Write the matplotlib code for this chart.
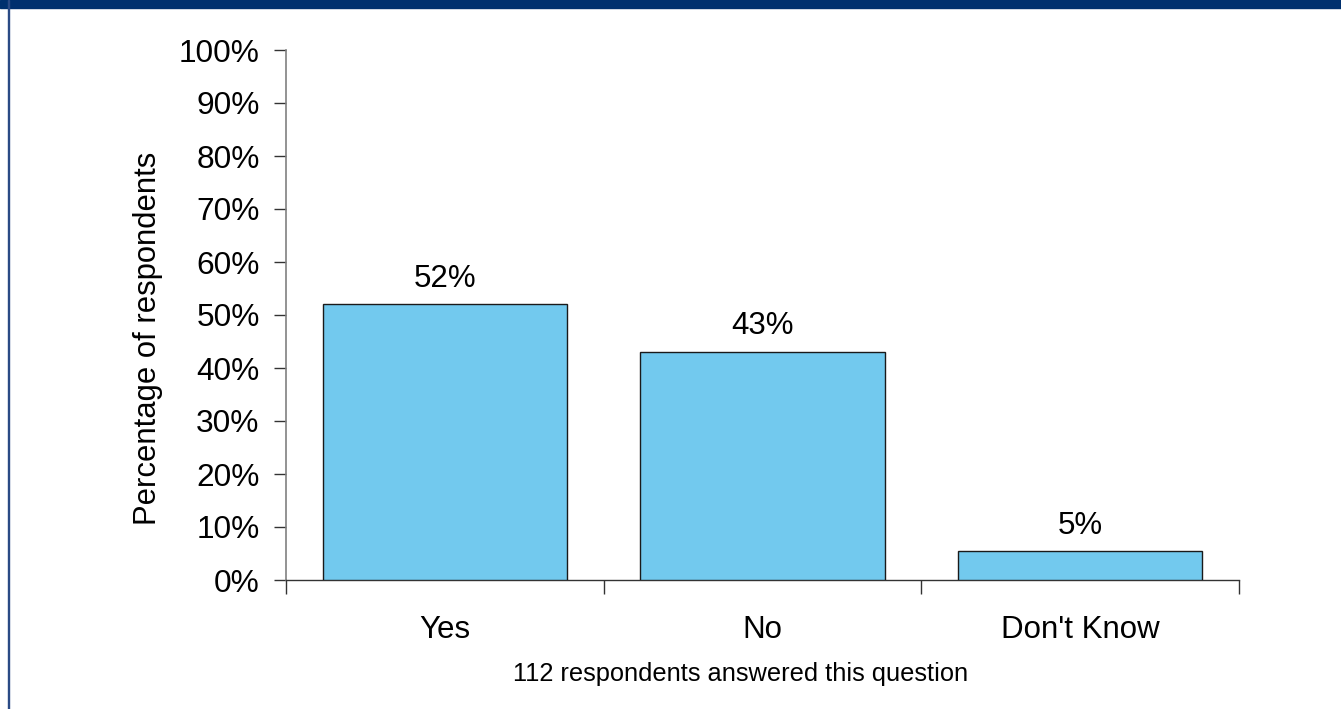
import matplotlib
matplotlib.use("Agg")
import matplotlib.pyplot as plt
from matplotlib.patches import Rectangle

categories = ["Yes", "No", "Don't Know"]
values = [52, 43, 5.4]
yticks = [0, 10, 20, 30, 40, 50, 60, 70, 80, 90, 100]
ylabel = "Percentage of respondents"
note = "112 respondents answered this question"

plt.rcParams['font.family'] = ['Liberation Sans', 'DejaVu Sans']

W, H = 1341, 709
fig = plt.figure(figsize=(W / 100, H / 100), dpi=100)

# frame: top navy band and left border
fig.patches.append(Rectangle((0, 1 - 8 / H), 1, 8 / H, transform=fig.transFigure,
                             color="#00306E", zorder=0))
fig.patches.append(Rectangle((8 / W, 0), 1.2 / W, 1, transform=fig.transFigure,
                             color="#2A4A85", zorder=0))

ax = fig.add_axes([286 / W, 1 - 580 / H, (1239 - 286) / W, (580 - 50) / H])
x = list(range(len(categories)))
ax.bar(x, values, width=0.77, color="#72C9EE", edgecolor="#1a1a1a", linewidth=1.0, zorder=3)
ax.set_xlim(-0.5, len(categories) - 0.5)
ax.set_ylim(0, 100)
ax.set_yticks(yticks)
ax.set_yticklabels([f"{t}%" for t in yticks], fontsize=22.8)
ax.set_xticks([])
ax.set_xticks([i - 0.5 for i in range(len(categories) + 1)], minor=True)
ax.tick_params(axis="x", which="minor", length=10, width=1, color="#333333")
ax.tick_params(axis="y", length=9, width=1, color="#333333", pad=10)
for i, c in enumerate(categories):
    ax.text(i, -9.5, c, ha="center", va="center", fontsize=22.5)
for i, v in enumerate(values):
    ax.text(i, v + 2.0, f"{round(v)}%", ha="center", va="bottom", fontsize=22.5)

for s in ["top", "right"]:
    ax.spines[s].set_visible(False)
ax.spines["left"].set_color("#808080")
ax.spines["left"].set_linewidth(1.2)
ax.spines["bottom"].set_color("#333333")
ax.spines["bottom"].set_linewidth(1.0)

fig.text(148 / W, 1 - 338 / H, ylabel, rotation=90, ha="center", va="center", fontsize=22.3)
fig.text(741 / W, 1 - 674 / H, note, ha="center", va="center", fontsize=18.3)

fig.savefig("out.png", dpi=100)
